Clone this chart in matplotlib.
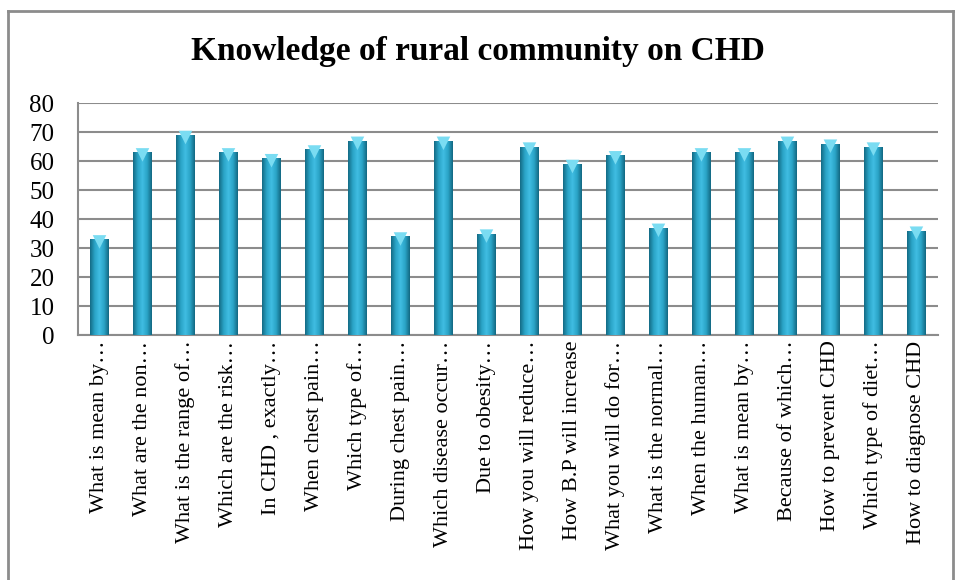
import numpy as np
import matplotlib.pyplot as plt
from matplotlib.colors import LinearSegmentedColormap
from matplotlib.lines import Line2D

# Data
questions = [
    "What is mean by…", "What are the non…", "What is the range of…",
    "Which are the risk…", "In CHD , exactly…", "When chest pain…",
    "Which type of…", "During chest pain…", "Which disease occur…",
    "Due to obesity…", "How you will reduce…", "How B.P will increase",
    "What you will do for…", "What is the normal…", "When the human…",
    "What is mean by…", "Because of which…", "How to prevent CHD",
    "Which type of diet…", "How to diagnose CHD",
]
scores = [33, 63, 69, 63, 61, 64, 67, 34, 67, 35, 65, 59, 62, 37, 63, 63, 67, 66, 65, 36]

plt.rcParams['font.family'] = ['Liberation Serif', 'DejaVu Serif']

W, H = 956, 580
fig = plt.figure(figsize=(W / 100, H / 100), dpi=100)
ax = fig.add_axes([0.0816, 0.4224, 0.8995, 0.40])

# chart frame (left, top, right edges visible in the reference)
frame = dict(color='#8c8c8c', linewidth=2, transform=fig.transFigure)
fig.add_artist(Line2D([8 / W, 8 / W], [0, 1 - 11 / H], **frame))
fig.add_artist(Line2D([8 / W, 953 / W], [1 - 11 / H, 1 - 11 / H], **frame))
fig.add_artist(Line2D([953 / W, 953 / W], [0, 1 - 11 / H], **frame))

x = np.arange(len(scores))
bars = ax.bar(x, scores, width=0.42, color='#2ba6c8', zorder=3)

# cylinder-like shading inside each bar
shade = LinearSegmentedColormap.from_list(
    'cyl', ['#146b85', '#2aa4c7', '#40bde2', '#2aa4c7', '#136882'])
grad = np.linspace(0, 1, 64).reshape(1, -1)
for b in bars:
    im = ax.imshow(grad, cmap=shade, aspect='auto', zorder=4,
                   extent=(b.get_x(), b.get_x() + b.get_width(), 0, b.get_height()))
    im.set_clip_path(b)

# small cap on top of each bar
ax.scatter(x, np.array(scores) - 0.9, marker='v', s=95, color='#7adcf2',
           edgecolors='none', zorder=5)

ax.set_xlim(-0.5, len(scores) - 0.5)
ax.set_ylim(0, 80)
ax.set_yticks(range(0, 81, 10))
ax.yaxis.grid(True, color='#8c8c8c', linewidth=1.5, zorder=0)
ax.set_axisbelow(True)

ax.set_xticks(x)
ax.set_xticklabels(questions, rotation=90, fontsize=16)
ax.tick_params(axis='x', length=0, pad=4)
ax.tick_params(axis='y', length=0, labelsize=18, pad=17)

for s in ['top', 'right']:
    ax.spines[s].set_visible(False)
ax.spines['left'].set_color('#8c8c8c')
ax.spines['left'].set_linewidth(1.5)
ax.spines['bottom'].set_color('#8c8c8c')
ax.spines['bottom'].set_linewidth(1.5)

fig.text(0.5, 0.912, 'Knowledge of rural community on CHD', ha='center', va='center',
         fontsize=24, fontweight='bold')

fig.savefig('out.png', dpi=100)
